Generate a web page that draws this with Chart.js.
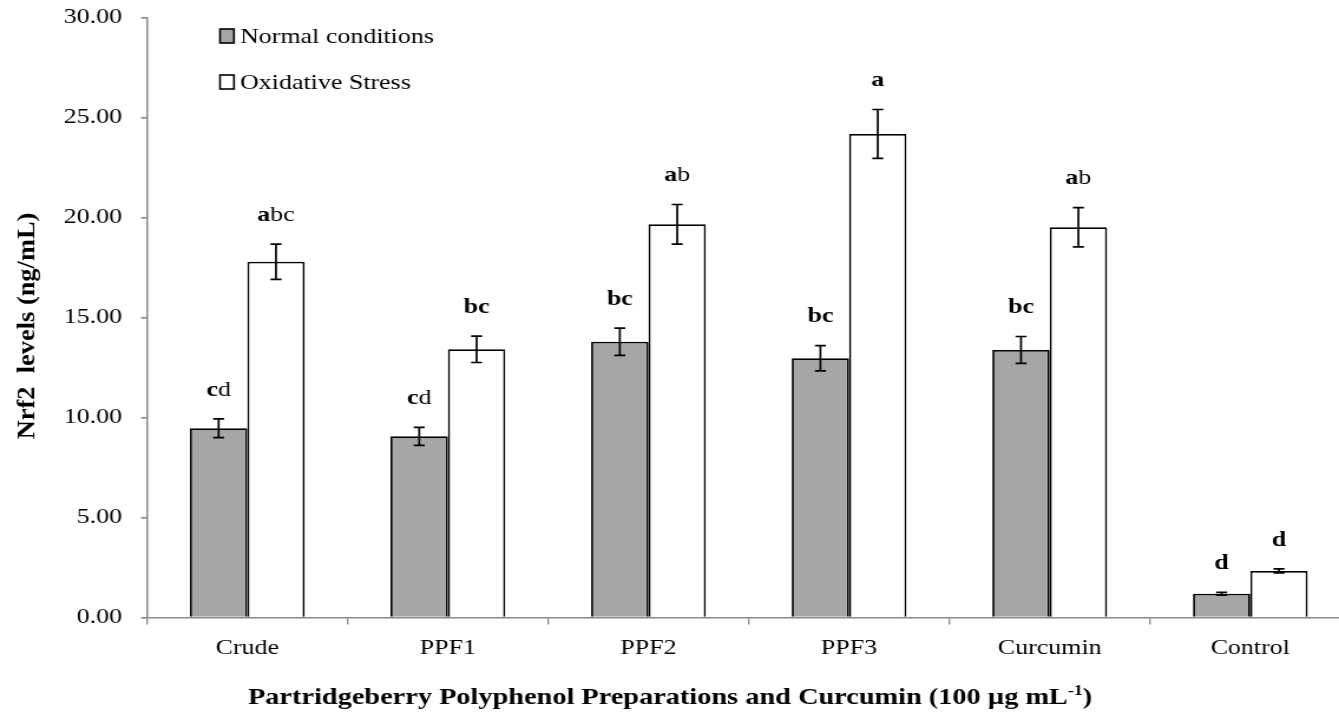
<!DOCTYPE html>
<html>
<head>
<meta charset="utf-8">
<title>Nrf2 levels</title>
<script src="https://cdn.jsdelivr.net/npm/chart.js@4.4.1/dist/chart.umd.min.js"></script>
<style>
  html, body { margin: 0; padding: 0; background: #fff; overflow: hidden; width: 1339px; height: 716px; }
  #myChart { display: block; }
</style>
</head>
<body>
<canvas id="myChart" width="1146" height="716" style="width:1352px;height:716px"></canvas>
<script>
const categories = ['Crude', 'PPF1', 'PPF2', 'PPF3', 'Curcumin', 'Control'];
const normalValues = [9.46, 9.06, 13.79, 12.96, 13.38, 1.19];
const normalErrors = [0.47, 0.45, 0.68, 0.63, 0.67, 0.07];
const stressValues = [17.79, 13.41, 19.66, 24.18, 19.51, 2.33];
const stressErrors = [0.88, 0.66, 0.99, 1.22, 0.98, 0.1];
// significance letters: [bold part, plain part]
const normalLetters = [['c', 'd'], ['c', 'd'], ['bc', ''], ['bc', ''], ['bc', ''], ['d', '']];
const stressLetters = [['a', 'bc'], ['bc', ''], ['a', 'b'], ['a', ''], ['a', 'b'], ['d', '']];
const yTicks = [0, 5, 10, 15, 20, 25, 30];

// canvas is drawn narrow and widened by css, text comes out wide like the Excel export
const SX = 1352 / 1146;
const px = v => v / SX;

const FONT = '"Liberation Serif", "Times New Roman", serif';
const AXIS = '#898989';

const errorBars = {
  id: 'errorBars',
  afterDatasetsDraw(chart) {
    const ctx = chart.ctx;
    const y = chart.scales.y;
    ctx.save();
    chart.data.datasets.forEach((ds, di) => {
      chart.getDatasetMeta(di).data.forEach((bar, i) => {
        const v = ds.data[i];
        const e = ds.errors[i];
        const top = y.getPixelForValue(v + e);
        const bot = y.getPixelForValue(v - e);
        const half = px(5.5);
        ctx.strokeStyle = '#000';
        ctx.lineWidth = 1.7;
        ctx.beginPath();
        ctx.moveTo(bar.x, top); ctx.lineTo(bar.x, bot);
        ctx.moveTo(bar.x - half, top); ctx.lineTo(bar.x + half, top);
        ctx.moveTo(bar.x - half, bot); ctx.lineTo(bar.x + half, bot);
        ctx.stroke();

        // letters above the error bar
        const [b, p] = ds.letters[i];
        ctx.font = 'bold 22px ' + FONT;
        const wb = ctx.measureText(b).width;
        ctx.font = '22px ' + FONT;
        const wp = ctx.measureText(p).width;
        const x = bar.x - (wb + wp) / 2;
        const ly = top - 29;
        ctx.fillStyle = '#000';
        ctx.textAlign = 'left';
        ctx.textBaseline = 'middle';
        ctx.font = 'bold 22px ' + FONT;
        ctx.fillText(b, x, ly);
        ctx.font = '22px ' + FONT;
        ctx.fillText(p, x + wb, ly);
      });
    });
    ctx.restore();
  }
};

const legendAndTitles = {
  id: 'legendAndTitles',
  afterDraw(chart) {
    const ctx = chart.ctx;
    ctx.save();

    // legend, top left inside the plot
    const rows = [36, 82];
    chart.data.datasets.forEach((ds, i) => {
      const cy = rows[i];
      ctx.fillStyle = ds.backgroundColor;
      ctx.strokeStyle = '#000';
      ctx.lineWidth = 1.6;
      ctx.fillRect(px(220), cy - 7, px(14), 14);
      ctx.strokeRect(px(220), cy - 7, px(14), 14);
      ctx.fillStyle = '#000';
      ctx.font = '22px ' + FONT;
      ctx.textAlign = 'left';
      ctx.textBaseline = 'middle';
      ctx.fillText(ds.label, px(240), cy + 1);
    });

    // y axis title
    ctx.save();
    ctx.translate(px(27), 326);
    ctx.rotate(-Math.PI / 2);
    ctx.scale(1.2, 1);
    ctx.font = 'bold 22px ' + FONT;
    ctx.textAlign = 'center';
    ctx.textBaseline = 'middle';
    ctx.fillText('Nrf2  levels (ng/mL)', 0, 0);
    ctx.restore();

    // x axis title with superscript
    const main = 'Partridgeberry Polyphenol Preparations and Curcumin (100 µg mL';
    const sup = '-1';
    const end = ')';
    ctx.textAlign = 'left';
    ctx.textBaseline = 'alphabetic';
    ctx.font = 'bold 24px ' + FONT;
    const w1 = ctx.measureText(main).width;
    const w3 = ctx.measureText(end).width;
    ctx.font = 'bold 15px ' + FONT;
    const w2 = ctx.measureText(sup).width;
    const x = px(670) - (w1 + w2 + w3) / 2;
    const base = 704;
    ctx.font = 'bold 24px ' + FONT;
    ctx.fillText(main, x, base);
    ctx.font = 'bold 15px ' + FONT;
    ctx.fillText(sup, x + w1, base - 9);
    ctx.font = 'bold 24px ' + FONT;
    ctx.fillText(end, x + w1 + w2, base);

    ctx.restore();
  }
};

const ctx = document.getElementById('myChart');
new Chart(ctx, {
  type: 'bar',
  data: {
    labels: categories,
    datasets: [
      {
        label: 'Normal conditions',
        data: normalValues,
        errors: normalErrors,
        letters: normalLetters,
        backgroundColor: '#a6a6a6',
        borderColor: '#000',
        borderWidth: 1.8
      },
      {
        label: 'Oxidative Stress',
        data: stressValues,
        errors: stressErrors,
        letters: stressLetters,
        backgroundColor: '#ffffff',
        borderColor: '#000',
        borderWidth: 1.8
      }
    ]
  },
  options: {
    responsive: false,
    animation: false,
    devicePixelRatio: 1,
    categoryPercentage: 0.572,
    barPercentage: 1.0,
    layout: { padding: { top: 17.5, right: 1146 - px(1350.6), bottom: 0, left: 0 } },
    plugins: {
      legend: { display: false },
      tooltip: { enabled: false }
    },
    scales: {
      x: {
        z: 1,
        offset: true,
        grid: { offset: true, drawOnChartArea: false, drawTicks: true, tickLength: 7, color: AXIS, lineWidth: px(1.6) },
        border: { color: AXIS, width: 1.6 },
        ticks: { color: '#000', font: { family: FONT, size: 22 }, padding: 11 },
        afterFit: s => { s.height = 716 - 617.5; s.paddingLeft = 0; s.paddingRight = 0; }
      },
      y: {
        min: 0,
        max: 30,
        afterBuildTicks: s => { s.ticks = yTicks.map(v => ({ value: v })); },
        grid: { drawOnChartArea: false, drawTicks: true, tickLength: px(6), color: AXIS, lineWidth: 1.6 },
        border: { color: AXIS, width: px(1.8) },
        ticks: {
          color: '#000',
          font: { family: FONT, size: 22 },
          padding: px(19),
          callback: v => Number(v).toFixed(2)
        },
        afterFit: s => { s.width = px(147); s.paddingTop = 0; s.paddingBottom = 0; }
      }
    }
  },
  plugins: [errorBars, legendAndTitles]
});
</script>
</body>
</html>
